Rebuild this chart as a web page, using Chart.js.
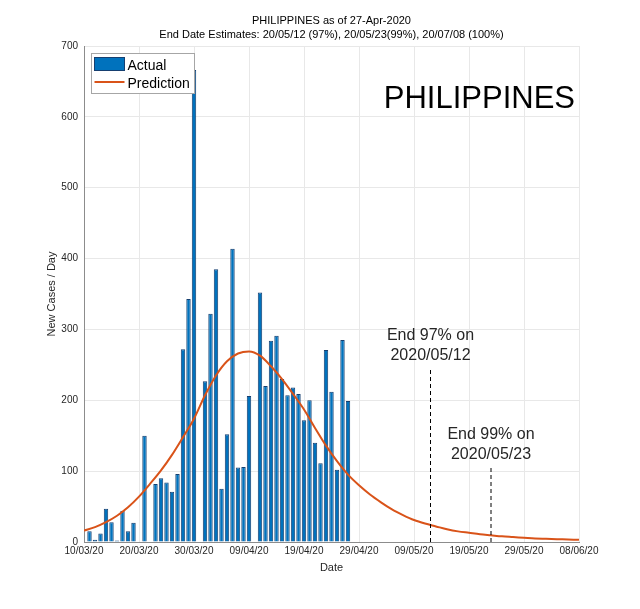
<!DOCTYPE html>
<html lang="en">
<head>
    <meta charset="UTF-8">
    <title>PHILIPPINES as of 27-Apr-2020</title>
    <script src="https://cdn.jsdelivr.net/npm/chart.js"></script>
    <style>
        html, body {
            margin: 0;
            padding: 0;
            background: #ffffff;
        }
        #wrap {
            width: 640px;
            height: 609px;
        }
    </style>
</head>
<body>

<div id="wrap">
    <canvas id="covidChart" width="640" height="609"></canvas>
</div>

<script>
    // ---- data ----
    const startDate = '10/03';   // day 0 of the x axis (2020)

    const barDates = [
        '11/03', '12/03', '13/03', '14/03', '15/03', '16/03', '17/03', '18/03', '19/03', '20/03',
        '21/03', '22/03', '23/03', '24/03', '25/03', '26/03', '27/03', '28/03', '29/03', '30/03',
        '31/03', '01/04', '02/04', '03/04', '04/04', '05/04', '06/04', '07/04', '08/04', '09/04',
        '10/04', '11/04', '12/04', '13/04', '14/04', '15/04', '16/04', '17/04', '18/04', '19/04',
        '20/04', '21/04', '22/04', '23/04', '24/04', '25/04', '26/04', '27/04'
    ];
    const actualCases = [
        15, 3, 12, 47, 28, 2, 44, 15, 27, 0,
        150, 0, 82, 90, 84, 71, 96, 272, 343, 666,
        0, 227, 322, 385, 75, 152, 414, 105, 106, 206,
        0, 352, 220, 284, 291, 230, 207, 218, 209, 172,
        200, 140, 111, 271, 212, 102, 285, 199
    ];

    // prediction curve, sampled every 2 days from the picture
    const predDays = [
        0, 2, 4, 6, 8, 10, 12, 14, 16, 18,
        20, 22, 24, 26, 28, 30, 32, 34, 36, 38,
        40, 42, 44, 46, 48, 50, 52, 54, 56, 58,
        60, 62, 64, 66, 68, 70, 72, 74, 76, 78,
        80, 82, 84, 86, 88, 90
    ];
    const predCases = [
        16, 21, 28, 37, 49, 64, 82, 101, 123, 148,
        174, 207, 235, 255, 266, 269, 263, 248, 230, 209,
        187, 161, 136, 114, 95, 80, 67, 56, 46, 38,
        31, 26, 22, 18, 15, 13, 11, 9.5, 8, 7,
        6, 5, 4.5, 4, 3.5, 3
    ];

    const endDates = ['12/05', '23/05'];
    const endLineTops = [245, 106];
    const endLabels = [['End 97% on', '2020/05/12'], ['End 99% on', '2020/05/23']];

    const xTickLabels = ['10/03/20', '20/03/20', '30/03/20', '09/04/20', '19/04/20',
                         '29/04/20', '09/05/20', '19/05/20', '29/05/20', '08/06/20'];
    const yTicks = [0, 100, 200, 300, 400, 500, 600, 700];

    const titleLines = ['PHILIPPINES as of 27-Apr-2020',
                        'End Date Estimates: 20/05/12 (97%), 20/05/23(99%), 20/07/08 (100%)'];
    const countryName = 'PHILIPPINES';

    // ---- helpers ----
    const FONT = "'Liberation Sans', Arial, Helvetica, sans-serif";
    const BLUE = '#0072BD';
    const BLUE_EDGE = '#163f70';
    const ORANGE = '#D95319';

    function dayIndex(ddmm) {
        const [d, m] = ddmm.split('/').map(Number);
        const [d0, m0] = startDate.split('/').map(Number);
        return Math.round((Date.UTC(2020, m - 1, d) - Date.UTC(2020, m0 - 1, d0)) / 86400000);
    }

    const barPoints = barDates.map((d, i) => ({ x: dayIndex(d), y: actualCases[i] }));
    const predPoints = predDays.map((d, i) => ({ x: d, y: predCases[i] }));
    const endLineSets = endDates.map((d, i) => ({
        type: 'line',
        label: 'end' + i,
        data: [{ x: dayIndex(d), y: 0 }, { x: dayIndex(d), y: endLineTops[i] }],
        borderColor: '#000000',
        borderWidth: 1,
        borderDash: [4, 3],
        pointRadius: 0,
        showInLegend: false
    }));

    // legend box, country name and end-date notes drawn on top of the plot
    const overlayPlugin = {
        id: 'overlay',
        afterDatasetsDraw(chart) {
            const ctx = chart.ctx;
            const area = chart.chartArea;
            const xs = chart.scales.x;
            const ys = chart.scales.y;
            ctx.save();

            // end date notes
            ctx.fillStyle = '#262626';
            ctx.font = '16px ' + FONT;
            ctx.textAlign = 'center';
            ctx.textBaseline = 'alphabetic';
            endDates.forEach((d, i) => {
                const px = xs.getPixelForValue(dayIndex(d));
                const top = ys.getPixelForValue(endLineTops[i]);
                ctx.fillText(endLabels[i][0], px, top - 28);
                ctx.fillText(endLabels[i][1], px, top - 8);
            });

            // country name
            ctx.fillStyle = '#000000';
            ctx.font = '31px ' + FONT;
            ctx.textAlign = 'right';
            ctx.fillText(countryName, area.right - 4, area.top + 62);

            // legend
            const lx = area.left + 7.5, ly = area.top + 7.5;
            ctx.fillStyle = '#ffffff';
            ctx.fillRect(lx, ly, 103, 40);
            ctx.strokeStyle = '#a6a6a6';
            ctx.lineWidth = 1;
            ctx.strokeRect(lx, ly, 103, 40);

            ctx.fillStyle = BLUE;
            ctx.fillRect(lx + 3, ly + 4, 30, 13);
            ctx.strokeStyle = BLUE_EDGE;
            ctx.strokeRect(lx + 3, ly + 4, 30, 13);

            ctx.strokeStyle = ORANGE;
            ctx.lineWidth = 2;
            ctx.beginPath();
            ctx.moveTo(lx + 3, ly + 28.5);
            ctx.lineTo(lx + 33, ly + 28.5);
            ctx.stroke();

            ctx.fillStyle = '#000000';
            ctx.font = '14px ' + FONT;
            ctx.textAlign = 'left';
            ctx.fillText(chart.data.datasets[0].label, lx + 36, ly + 16.5);
            ctx.fillText(chart.data.datasets[1].label, lx + 36, ly + 34.5);

            ctx.restore();
        }
    };

    const ctx = document.getElementById('covidChart').getContext('2d');
    new Chart(ctx, {
        type: 'bar',
        data: {
            datasets: [
                {
                    type: 'bar',
                    label: 'Actual',
                    data: barPoints,
                    backgroundColor: BLUE,
                    borderColor: BLUE_EDGE,
                    borderWidth: 1,
                    barPercentage: 0.8,
                    categoryPercentage: 1.0,
                    order: 3
                },
                {
                    type: 'line',
                    label: 'Prediction',
                    data: predPoints,
                    borderColor: ORANGE,
                    borderWidth: 2,
                    pointRadius: 0,
                    tension: 0.4,
                    cubicInterpolationMode: 'monotone',
                    order: 1
                },
                ...endLineSets
            ]
        },
        options: {
            responsive: false,
            animation: false,
            devicePixelRatio: 1,
            layout: {
                padding: { left: 0, right: 61, top: 0, bottom: 0 }
            },
            plugins: {
                legend: { display: false },
                tooltip: { enabled: false },
                title: {
                    display: true,
                    fullSize: false,
                    text: titleLines,
                    color: '#000000',
                    font: { family: FONT, size: 11, weight: 'normal', lineHeight: 1.3 },
                    padding: { top: 14, bottom: 3.4 }
                }
            },
            scales: {
                x: {
                    type: 'linear',
                    min: 0,
                    max: 90,
                    offset: false,
                    afterFit(scale) { scale.height = 67; },
                    afterBuildTicks(scale) {
                        scale.ticks = xTickLabels.map((t, i) => ({ value: i * 10 }));
                    },
                    ticks: {
                        color: '#262626',
                        font: { family: FONT, size: 10 },
                        padding: 3,
                        maxRotation: 0,
                        autoSkip: false,
                        callback: (v, i) => xTickLabels[i]
                    },
                    grid: {
                        color: '#e8e8e8',
                        drawTicks: false,
                        offset: false
                    },
                    border: { color: '#8c8c8c' },
                    title: {
                        display: true,
                        text: 'Date',
                        color: '#262626',
                        font: { family: FONT, size: 11 },
                        padding: { top: 0, bottom: 34.4 }
                    }
                },
                y: {
                    min: 0,
                    max: 700,
                    afterFit(scale) { scale.width = 84; },
                    afterBuildTicks(scale) {
                        scale.ticks = yTicks.map(v => ({ value: v }));
                    },
                    ticks: {
                        color: '#262626',
                        font: { family: FONT, size: 10 },
                        padding: 6
                    },
                    grid: {
                        color: '#e8e8e8',
                        drawTicks: false
                    },
                    border: { color: '#8c8c8c' },
                    title: {
                        display: true,
                        text: 'New Cases / Day',
                        color: '#262626',
                        font: { family: FONT, size: 11 },
                        padding: { top: 45.4, bottom: 0 }
                    }
                }
            }
        },
        plugins: [overlayPlugin]
    });
</script>

</body>
</html>
